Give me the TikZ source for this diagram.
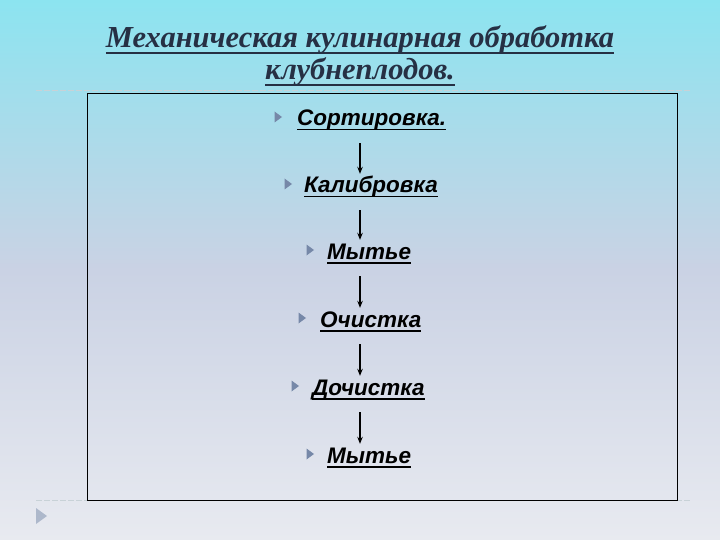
\documentclass[tikz,border=0pt]{standalone}
\usepackage{fontspec}
\setmainfont{Liberation Serif}
\newfontfamily\itemfont{Liberation Sans}
\usetikzlibrary{arrows.meta}
\definecolor{bgtop}{RGB}{140,228,240}
\definecolor{bgmid}{RGB}{202,210,228}
\definecolor{bgbot}{RGB}{232,234,240}
\definecolor{titlec}{RGB}{38,48,68}
\definecolor{bulletc}{RGB}{118,136,168}
\definecolor{dashc}{RGB}{200,210,215}
\newsavebox{\myulbox}
\newcommand{\myul}[2]{\sbox{\myulbox}{#2}\rlap{\rule[-#1]{\wd\myulbox}{1.6pt}}\usebox{\myulbox}}
\tikzset{
  itemtxt/.style={font=\itemfont\bfseries\itshape\fontsize{22.5}{26}\selectfont, inner sep=0pt, text height=16pt, text depth=6pt},
  arr/.style={-{Stealth[length=7pt,width=5.5pt]}, line width=1.1pt, black, shorten <=11pt, shorten >=3pt},
  dashln/.style={dashc, line width=0.8pt, dash pattern=on 6pt off 2pt},
}
\begin{document}
\begin{tikzpicture}[x=1pt,y=-1pt]
\useasboundingbox (0,0) rectangle (720,540);
\shade[top color=bgtop, bottom color=bgbot, middle color=bgmid] (0,0) rectangle (720,540);
% frame lines
\draw[dashln] (36,90.5) -- (690,90.5);
\draw[dashln] (36,500) -- (690,500);
\draw[black, line width=0.8pt] (87.5,93.5) rectangle (677.5,500.5);
% title
\node[font=\bfseries\itshape\fontsize{30.5}{32}\selectfont, text=titlec, align=center, inner sep=0pt] (title) at (360,56)
  {\myul{6pt}{Механическая кулинарная обработка}\\ \myul{6pt}{клубнеплодов.}};
% axis coordinate
\coordinate (ax) at (360,0);
% items
\node[itemtxt, anchor=west] (s1) at (297,121) {\myul{4.5pt}{Сортировка.}};
\node[itemtxt, anchor=west] (s2) at (304,188) {\myul{4.5pt}{Калибровка}};
\node[itemtxt, anchor=west] (s3) at (327,254) {\myul{4.5pt}{Мытье}};
\node[itemtxt, anchor=west] (s4) at (320,322) {\myul{4.5pt}{Очистка}};
\node[itemtxt, anchor=west] (s5) at (312,390) {\myul{4.5pt}{Дочистка}};
\node[itemtxt, anchor=west] (s6) at (327,458) {\myul{4.5pt}{Мытье}};
% bullets
\foreach \bx/\by in {278/117, 288/184, 310/250, 302/318, 295/386, 310/454}{
  \fill[bulletc] (\bx-3.5,\by-5.5) -- (\bx+4,\by) -- (\bx-3.5,\by+5.5) -- cycle;
}
% arrows
\draw[arr] (s1.south -| ax) -- (s2.north -| ax);
\draw[arr] (s2.south -| ax) -- (s3.north -| ax);
\draw[arr] (s3.south -| ax) -- (s4.north -| ax);
\draw[arr] (s4.south -| ax) -- (s5.north -| ax);
\draw[arr] (s5.south -| ax) -- (s6.north -| ax);
% corner triangle
\fill[bulletc!60!white] (36,508) -- (47,516) -- (36,524) -- cycle;
\end{tikzpicture}
\end{document}
